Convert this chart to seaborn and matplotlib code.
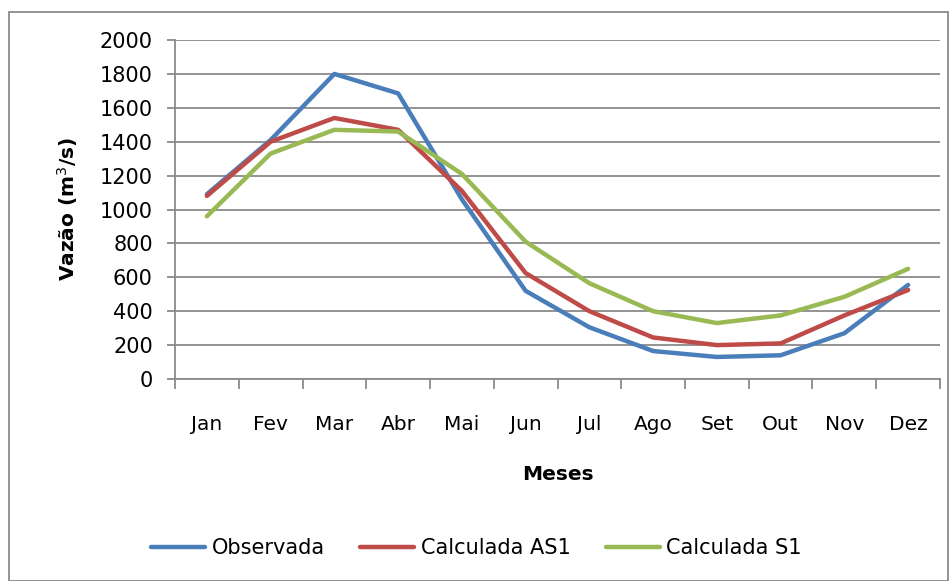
import matplotlib
matplotlib.use("Agg")
import matplotlib.pyplot as plt
from matplotlib.patches import Rectangle
from matplotlib.ticker import MultipleLocator, FixedLocator
import pandas as pd
import seaborn as sns

meses = ["Jan", "Fev", "Mar", "Abr", "Mai", "Jun", "Jul", "Ago", "Set", "Out", "Nov", "Dez"]
observada = [1090, 1410, 1800, 1685, 1060, 520, 305, 165, 130, 140, 270, 555]
calculada_as1 = [1080, 1400, 1540, 1470, 1110, 625, 400, 245, 200, 210, 375, 525]
calculada_s1 = [960, 1330, 1470, 1460, 1210, 810, 565, 400, 330, 375, 485, 650]

series = {"Observada": observada, "Calculada AS1": calculada_as1, "Calculada S1": calculada_s1}
cores = ["#4A7EBB", "#BE4B48", "#98B954"]

df = pd.DataFrame([
    {"Mês": i, "Vazão": v, "Série": nome}
    for nome, vals in series.items()
    for i, v in enumerate(vals)
])

sns.set_theme(style="white")
plt.rcParams["font.family"] = ["DejaVu Sans"]
plt.rcParams["text.color"] = "black"
plt.rcParams["axes.labelcolor"] = "black"

fig = plt.figure(figsize=(9.53, 5.81), dpi=100)
ax = fig.add_axes([175 / 953, 1 - 379 / 581, (940 - 175) / 953, (379 - 40) / 581])

sns.lineplot(data=df, x="Mês", y="Vazão", hue="Série", palette=cores,
             linewidth=3.2, ax=ax, legend=False)

ax.set_xlim(-0.5, 11.5)
ax.set_ylim(0, 2000)
ax.yaxis.set_major_locator(MultipleLocator(200))
ax.grid(axis="y", color="#8a8a8a", linewidth=1.3)
ax.set_axisbelow(True)

ax.set_xticks(range(12))
ax.set_xticklabels(meses)
ax.xaxis.set_minor_locator(FixedLocator([i - 0.5 for i in range(13)]))
ax.tick_params(axis="x", which="major", length=0, pad=26, labelsize=14.5, colors="black")
ax.tick_params(axis="x", which="minor", length=7, width=1.3, color="#8a8a8a", bottom=True)
ax.tick_params(axis="y", which="major", length=6, width=1.3, color="#8a8a8a",
               left=True, labelsize=15, labelcolor="black", pad=10)

for side in ["top", "right"]:
    ax.spines[side].set_visible(False)
for side in ["left", "bottom"]:
    ax.spines[side].set_color("#8a8a8a")
    ax.spines[side].set_linewidth(1.3)

ax.set_ylabel("Vazão (m$^3$/s)", fontsize=14.5, fontweight="bold", labelpad=14, color="black")
ax.set_xlabel("Meses", fontsize=14.5, fontweight="bold", labelpad=22, color="black")

handles = [plt.Line2D([], [], color=c, linewidth=3.2) for c in cores]
fig.legend(handles, list(series.keys()), loc="center", bbox_to_anchor=(0.5, 1 - 548 / 581),
           ncol=3, frameon=False, fontsize=15, handlelength=2.6, handletextpad=0.3,
           columnspacing=1.7, labelcolor="black")

fig.patches.append(Rectangle((9 / 953, 0.0), (948 - 9) / 953, 1 - 12 / 581,
                             transform=fig.transFigure, fill=False,
                             edgecolor="#8a8a8a", linewidth=1.3))

fig.savefig("out.png", dpi=100)
